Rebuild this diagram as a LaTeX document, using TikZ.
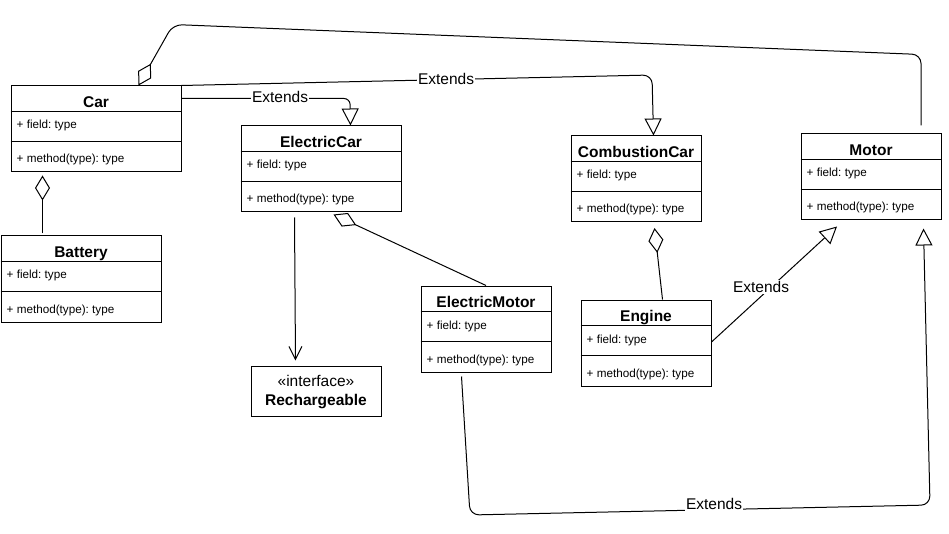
\documentclass[tikz,border=0pt]{standalone}
\usepackage{fontspec}
\setmainfont{Liberation Sans}
\frenchspacing
\usetikzlibrary{arrows.meta}
\tikzset{
  cbox/.style={draw, line width=1pt, rectangle, minimum height=86pt, inner sep=0pt, fill=white},
  ibox/.style={draw, line width=1pt, rectangle, inner sep=0pt, fill=white},
  cline/.style={line width=1pt},
  ctitle/.style={anchor=base, inner sep=0pt, font=\fontsize{15.5}{18}\selectfont\bfseries},
  cfield/.style={anchor=base west, inner sep=0pt, font=\fontsize{11.7}{14}\selectfont},
  itext/.style={anchor=base, inner sep=0pt, font=\fontsize{15.5}{18}\selectfont},
  elabel/.style={fill=white, inner sep=1pt, font=\fontsize{15.5}{18}\selectfont},
  conn/.style={line width=1pt, draw=black},
  gen/.style={conn, -{Triangle[open, length=17pt, width=17pt]}},
  aggstart/.style={conn, {Diamond[open, length=25pt, width=15pt]}-},
  aggend/.style={conn, -{Diamond[open, length=25pt, width=15pt]}},
  dep/.style={conn, -{Straight Barb[length=13pt, width=13pt]}},
}
\newcommand{\umlclass}[5]{%
  \node[cbox, minimum width=#4pt, anchor=north west] (#1) at (#2,#3) {};
  \draw[cline] ([yshift=-26pt]#1.north west) -- ([yshift=-26pt]#1.north east);
  \draw[cline] ([yshift=-56pt]#1.north west) -- ([yshift=-56pt]#1.north east);
  \node[ctitle] (#1-t) at ([yshift=-22pt]#1.north) {#5};
  \node[cfield] (#1-f) at ([xshift=6pt,yshift=-43.5pt]#1.north west) {+ field: type};
  \node[cfield] (#1-m) at ([xshift=6pt,yshift=-77.5pt]#1.north west) {+ method(type): type};
}
\begin{document}
\begin{tikzpicture}[x=1pt,y=-1pt]
\fill[white] (0,0) rectangle (949,534);
\useasboundingbox (0,0) rectangle (949,534);

\umlclass{Car}{10.5}{85.5}{170}{Car}
\umlclass{ElectricCar}{240.5}{125.5}{160}{ElectricCar}
\umlclass{Battery}{0.5}{235.5}{160}{Battery}
\umlclass{CombustionCar}{570.5}{135.5}{130}{CombustionCar}
\umlclass{Motor}{800.5}{133.5}{140}{Motor}
\umlclass{ElectricMotor}{420.5}{285.5}{130}{ElectricMotor}
\umlclass{Engine}{580.5}{299.5}{130}{Engine}

\node[ibox, minimum width=130pt, minimum height=50pt, anchor=north west] (Rech) at (250.5,365.5) {};
\node[itext] (Rech-s) at ([yshift=-20.5pt]Rech.north) {«interface»};
\node[itext, font=\fontsize{15.5}{18}\selectfont\bfseries] (Rech-n) at ([yshift=-40pt]Rech.north) {Rechargeable};

% waypoints
\coordinate (w1) at (350,98.5);
\coordinate (w2) at (652,75);
\coordinate (w3) at (173,24.5);
\coordinate (w4) at (921,54.5);
\coordinate (w5) at (470,515);
\coordinate (w6) at (930,505);

% Car -> ElectricCar
\draw[gen, rounded corners=6pt] ([yshift=-13pt]Car.north east) -- (w1) -- ([xshift=110pt]ElectricCar.north west);
% Car -> CombustionCar
\draw[gen, rounded corners=9pt] (Car.north east) -- (w2) -- ([xshift=83pt]CombustionCar.north west);
% Car <>- Motor
\draw[aggstart, rounded corners=9pt] ([xshift=128pt]Car.north west) -- (w3) -- (w4) -- ([xshift=120.5pt,yshift=8pt]Motor.north west);
% Car <>- Battery
\draw[aggend] ([xshift=42pt,yshift=2pt]Battery.north west) -- ([xshift=32pt,yshift=-3pt]Car.south west);
% ElectricCar -> Rechargeable
\draw[dep] ([xshift=54pt,yshift=-5pt]ElectricCar.south west) -- ([xshift=45pt,yshift=5pt]Rech.north west);
% ElectricCar <>- ElectricMotor
\draw[aggend] (ElectricMotor.north) -- ([xshift=93pt,yshift=-2pt]ElectricCar.south west);
% CombustionCar <>- Engine
\draw[aggend] ([xshift=82pt]Engine.north west) -- ([xshift=84pt,yshift=-5.5pt]CombustionCar.south west);
% Engine -> Motor
\draw[gen] ([yshift=-42.5pt]Engine.north east) -- ([xshift=36.5pt,yshift=-6pt]Motor.south west);
% ElectricMotor -> Motor
\draw[gen, rounded corners=9pt] ([xshift=41pt,yshift=-4pt]ElectricMotor.south west) -- (w5) -- (w6) -- ([xshift=123pt,yshift=-8pt]Motor.south west);

% labels
\node[elabel] (l1) at (280,97) {Extends};
\node[elabel] (l2) at (446,79) {Extends};
\node[elabel] (l3) at (761,287) {Extends};
\node[elabel] (l4) at (714,504) {Extends};
\end{tikzpicture}
\end{document}
